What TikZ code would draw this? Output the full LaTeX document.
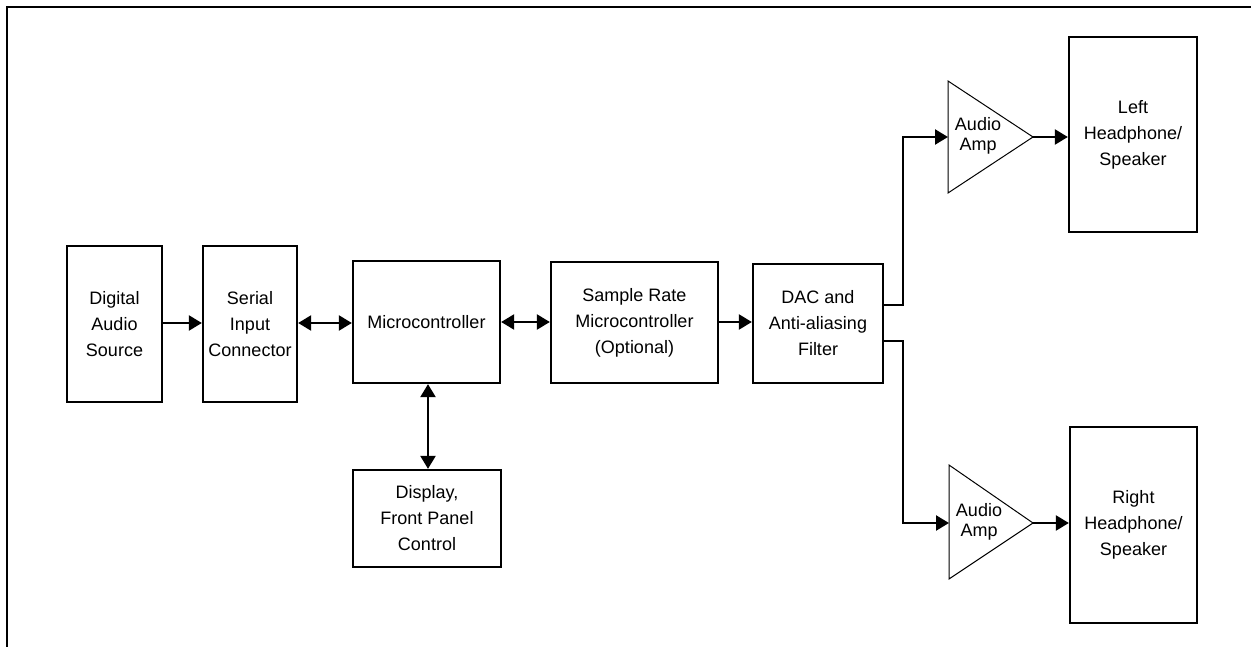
\documentclass[tikz,border=0pt]{standalone}
\usepackage{fontspec}
\setmainfont{Liberation Sans}
\usetikzlibrary{arrows.meta}
\begin{document}
\begin{tikzpicture}[x=1pt,y=-1pt,
  blk/.style={draw,line width=2.3pt,inner sep=0pt,align=center,font=\fontsize{18}{26}\selectfont},
  amptext/.style={inner sep=0pt,align=center,font=\fontsize{18}{20}\selectfont},
  ampshape/.style={draw,line width=1pt,line join=miter},
  conn/.style={line width=2.3pt,-{Triangle[length=13pt,width=15pt]}},
  biconn/.style={line width=2.3pt,{Triangle[length=13pt,width=15pt]}-{Triangle[length=13pt,width=15pt]}},
  wire/.style={line width=2.3pt}]
\useasboundingbox (0,0) rectangle (1251,647);
% frame
\draw[line width=2.3pt] (7,647) -- (7,7) -- (1251,7);
% blocks
\node[blk,minimum width=95pt,minimum height=156pt] (das) at (114.5,324) {Digital\\Audio\\Source};
\node[blk,minimum width=94pt,minimum height=156pt] (sic) at (250,324) {Serial\\Input\\Connector};
\node[blk,minimum width=147pt,minimum height=122pt] (mc) at (426.5,322) {Microcontroller};
\node[blk,minimum width=167pt,minimum height=121pt] (src) at (634.5,322.5) {Sample Rate\\Microcontroller\\(Optional)};
\node[blk,minimum width=130pt,minimum height=119pt] (dac) at (818,323.5) {DAC and\\Anti-aliasing\\Filter};
\node[blk,minimum width=148pt,minimum height=97pt] (disp) at (427,518.5) {Display,\\Front Panel\\Control};
\node[blk,minimum width=128pt,minimum height=195pt] (ls) at (1133,134.5) {Left\\Headphone/\\Speaker};
\node[blk,minimum width=127pt,minimum height=196pt] (rs) at (1133.5,525) {Right\\Headphone/\\Speaker};
% amplifiers
\coordinate (ampLin) at (948,137);
\coordinate (ampLout) at (1033,137);
\draw[ampshape] (948,81) -- (ampLout) -- (948,193) -- cycle;
\node[amptext] (ampL) at (978,136) {Audio\\Amp};
\coordinate (ampRin) at (949,523);
\coordinate (ampRout) at (1033,523);
\draw[ampshape] (949,465) -- (ampRout) -- (949,579) -- cycle;
\node[amptext] (ampR) at (979,522) {Audio\\Amp};
% DAC outputs
\coordinate (dacU) at (dac.east |- 0,305);
\coordinate (dacD) at (dac.east |- 0,341);
% connectors
\draw[conn] (das.east |- 0,323) -- (sic.west |- 0,323);
\draw[biconn] (sic.east |- 0,323) -- (mc.west |- 0,323);
\draw[biconn] (mc.east |- 0,322) -- (src.west |- 0,322);
\draw[conn] (src.east |- 0,322) -- (dac.west |- 0,322);
\draw[biconn] (mc.south -| 428,0) -- (disp.north -| 428,0);
\draw[conn] (dacU) -| (903,137) -- (ampLin);
\draw[conn] (dacD) -| (903,523) -- (ampRin);
\draw[conn] (ampLout) -- (ls.west |- ampLout);
\draw[conn] (ampRout) -- (rs.west |- ampRout);
\end{tikzpicture}
\end{document}
